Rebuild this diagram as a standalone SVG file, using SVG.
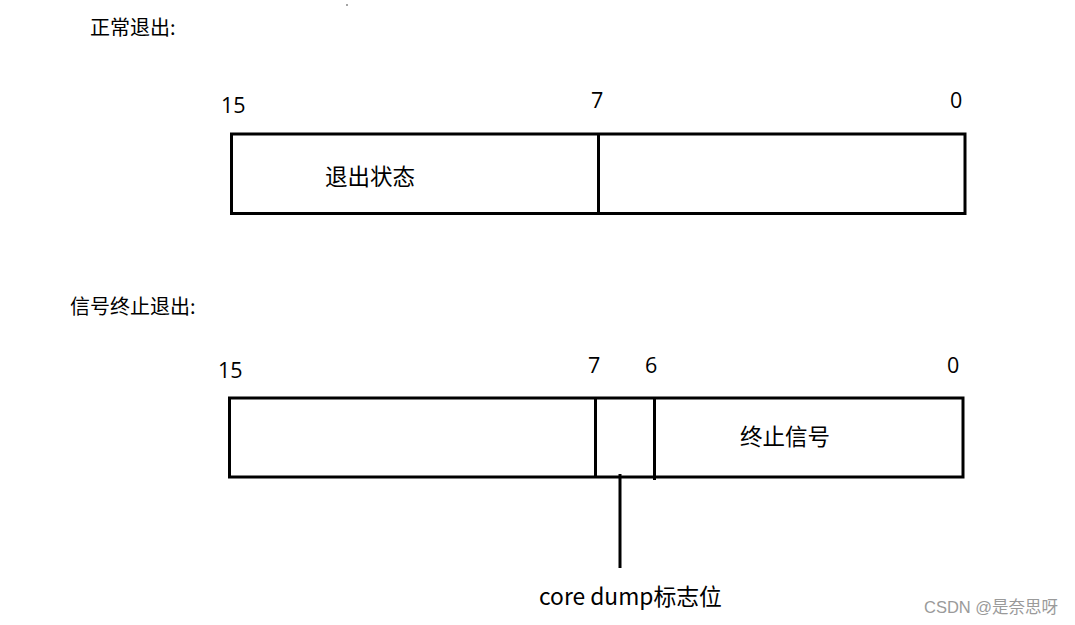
<svg xmlns="http://www.w3.org/2000/svg" width="1075" height="625" viewBox="0 0 1075 625">
<style>
.box{fill:#fff;stroke:#000;stroke-width:3}
.div{stroke:#000;stroke-width:3}
.num{font-family:"Open Sans","Noto Sans",sans-serif;font-size:21.5px;fill:#000}
.cjk{font-family:"Noto Sans CJK SC",sans-serif;fill:#000}
.wm{font-family:"Liberation Sans","Noto Sans CJK SC",sans-serif;font-size:16.5px;fill:#9a9a9a}
</style>
<rect width="1075" height="625" fill="#fff"/>
<circle cx="347" cy="5" r="0.8" fill="#333"/>
<text class="cjk" x="90" y="35" font-size="20">正常退出:</text>
<text class="cjk" x="70" y="314" font-size="20">信号终止退出:</text>
<g id="top-register">
<rect class="box" x="231.5" y="134" width="733.5" height="79.5"/>
<line class="div" x1="598.5" y1="134" x2="598.5" y2="213.5"/>
<text class="num" x="221" y="113">15</text>
<text class="num" x="591" y="108">7</text>
<text class="num" x="950" y="108">0</text>
<text class="cjk" x="325" y="185" font-size="22.5">退出状态</text>
</g>
<g id="bottom-register">
<rect class="box" x="229.5" y="398" width="733.5" height="79"/>
<line class="div" x1="595.5" y1="398" x2="595.5" y2="477"/>
<line class="div" x1="654.5" y1="398" x2="654.5" y2="480"/>
<text class="num" x="218" y="378">15</text>
<text class="num" x="588" y="373">7</text>
<text class="num" x="645" y="373">6</text>
<text class="num" x="947" y="373">0</text>
<text class="cjk" x="740" y="445" font-size="22.5">终止信号</text>
</g>
<g id="connectors">
<line class="div" x1="620" y1="474" x2="620" y2="568"/>
</g>
<g id="core-label">
<text class="cjk" x="539" y="605" font-size="22.8">core dump标志位</text>
</g>
<text class="wm" x="924" y="613">CSDN @是奈思呀</text>
</svg>
